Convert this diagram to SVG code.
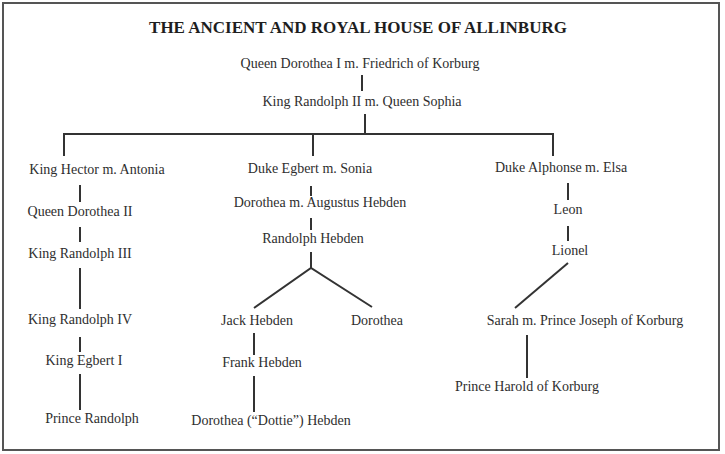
<svg xmlns="http://www.w3.org/2000/svg" width="725" height="454" viewBox="0 0 725 454">
<style>
text{font-family:"Liberation Serif","Times New Roman",serif;font-size:14px;fill:#2e2e2e;text-anchor:middle}
.title{font-weight:bold;font-size:17px;fill:#1e1e1e}
.c line,.c polyline{stroke:#333;stroke-width:2;fill:none}
</style>
<rect width="725" height="454" fill="#fff"/>
<rect x="3" y="3" width="716" height="447" fill="none" stroke="#555" stroke-width="2"/>
<text class="title" x="358" y="33">THE ANCIENT AND ROYAL HOUSE OF ALLINBURG</text>
<g class="c" id="connectors">
<line x1="362" y1="75" x2="362" y2="91"/>
<line x1="365" y1="114" x2="365" y2="134"/>
<polyline points="64,156 64,134 553,134 553,156"/>
<line x1="313" y1="134" x2="313" y2="156"/>
<line x1="80" y1="185" x2="80" y2="202"/>
<line x1="80" y1="227" x2="80" y2="242"/>
<line x1="80" y1="268" x2="80" y2="309"/>
<line x1="80" y1="337" x2="80" y2="352"/>
<line x1="80" y1="374" x2="80" y2="410"/>
<line x1="311" y1="186" x2="311" y2="196"/>
<line x1="311" y1="218" x2="311" y2="230"/>
<polyline points="254,308 311,268 372,307"/>
<line x1="311" y1="252" x2="311" y2="268"/>
<line x1="254" y1="333" x2="254" y2="355"/>
<line x1="254" y1="376" x2="254" y2="412"/>
<line x1="568" y1="183" x2="568" y2="200"/>
<line x1="568" y1="226" x2="568" y2="241"/>
<line x1="568" y1="263" x2="515" y2="308"/>
<line x1="527" y1="335" x2="527" y2="378"/>
</g>
<g id="n1"><text x="360" y="68">Queen Dorothea I m. Friedrich of Korburg</text></g>
<g id="n2"><text x="362" y="106">King Randolph II m. Queen Sophia</text></g>
<g id="n3"><text x="97" y="174">King Hector m. Antonia</text></g>
<g id="n4"><text x="80" y="216">Queen Dorothea II</text></g>
<g id="n5"><text x="80" y="258">King Randolph III</text></g>
<g id="n6"><text x="80" y="324">King Randolph IV</text></g>
<g id="n7"><text x="84" y="365">King Egbert I</text></g>
<g id="n8"><text x="92" y="423">Prince Randolph</text></g>
<g id="n9"><text x="310" y="173">Duke Egbert m. Sonia</text></g>
<g id="n10"><text x="320" y="207">Dorothea m. Augustus Hebden</text></g>
<g id="n11"><text x="313" y="243">Randolph Hebden</text></g>
<g id="n12"><text x="257" y="325">Jack Hebden</text></g>
<g id="n13"><text x="377" y="325">Dorothea</text></g>
<g id="n14"><text x="262" y="367">Frank Hebden</text></g>
<g id="n15"><text x="271" y="425">Dorothea (“Dottie”) Hebden</text></g>
<g id="n16"><text x="561" y="172">Duke Alphonse m. Elsa</text></g>
<g id="n17"><text x="568" y="214">Leon</text></g>
<g id="n18"><text x="570" y="255">Lionel</text></g>
<g id="n19"><text x="585" y="325">Sarah m. Prince Joseph of Korburg</text></g>
<g id="n20"><text x="527" y="391">Prince Harold of Korburg</text></g>
</svg>
